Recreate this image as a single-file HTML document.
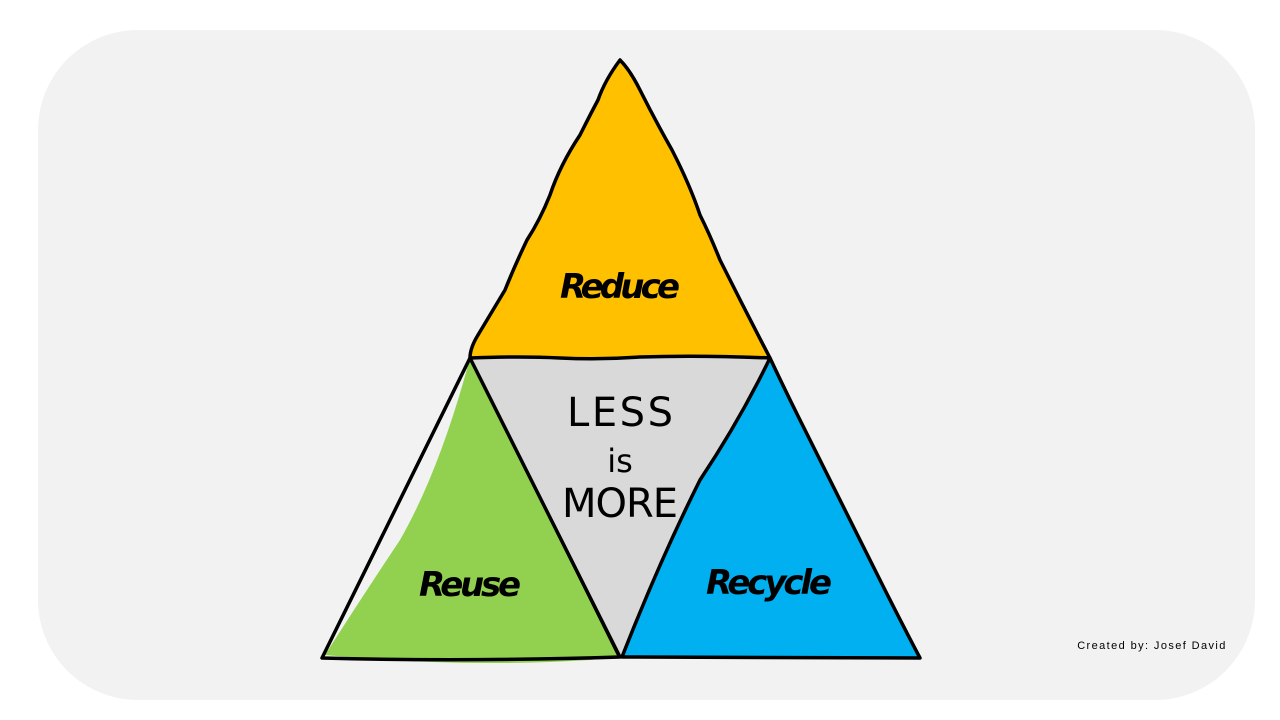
<!DOCTYPE html>
<html><head><meta charset="utf-8"><style>
html,body{margin:0;padding:0;background:#fff;width:1280px;height:720px;overflow:hidden}
</style></head><body>
<svg width="1280" height="720" viewBox="0 0 1280 720" xmlns="http://www.w3.org/2000/svg">
<rect x="38" y="30" width="1217" height="670" rx="100" fill="#f2f2f2"/>
<polygon points="470,358 770,358 620,658" fill="#d9d9d9"/>
<path d="M620,60 Q605,80 598,100 Q590,115 580,135 Q560,165 550,195 Q540,220 527,240 Q515,265 505,290 Q490,315 478,335 Q470,348 470,358 Q520,356 560,358 Q600,360 640,357 Q700,355 770,358 Q745,310 720,260 Q710,235 700,215 Q690,185 672,150 Q655,120 640,90 Q630,70 620,60Z" fill="#ffc000" stroke="#000" stroke-width="3.5" stroke-linejoin="round"/>
<path d="M470,358 Q440,470 400,540 Q360,600 325,655 Q460,668 590,660 L618,656 Q540,490 470,358Z" fill="#92d050"/>
<path d="M470,358 L322,658 Q460,662 620,657 Z" fill="none" stroke="#000" stroke-width="3.5" stroke-linejoin="round"/>
<path d="M470,358 Q545,510 618,656" fill="none" stroke="#000" stroke-width="1.5"/>
<path d="M770,358 Q740,420 700,480 Q660,560 622,657 L920,658 Q900,620 880,580 Q840,500 800,420 Q785,390 770,358Z" fill="#00b0f0" stroke="#000" stroke-width="3.5" stroke-linejoin="round"/>
<g font-family="'DejaVu Sans','Liberation Sans',sans-serif" text-anchor="middle" fill="#000" font-weight="bold" font-style="italic" font-size="34">
<text x="620" y="298" textLength="120">Reduce</text>
<text x="470" y="596" textLength="102">Reuse</text>
<text x="769" y="594" textLength="126">Recycle</text>
</g>
<g font-family="'DejaVu Sans','Liberation Sans',sans-serif" text-anchor="middle" fill="#000" font-weight="normal" font-size="40">
<text x="620" y="426" textLength="106">LESS</text>
<text x="620" y="472" font-size="32">is</text>
<text x="620" y="517" textLength="116">MORE</text>
</g>
<text x="1152" y="649" text-anchor="middle" font-family="'Liberation Sans',sans-serif" font-size="11" letter-spacing="1.4" fill="#000">Created by: Josef David</text>
</svg>
</body></html>
